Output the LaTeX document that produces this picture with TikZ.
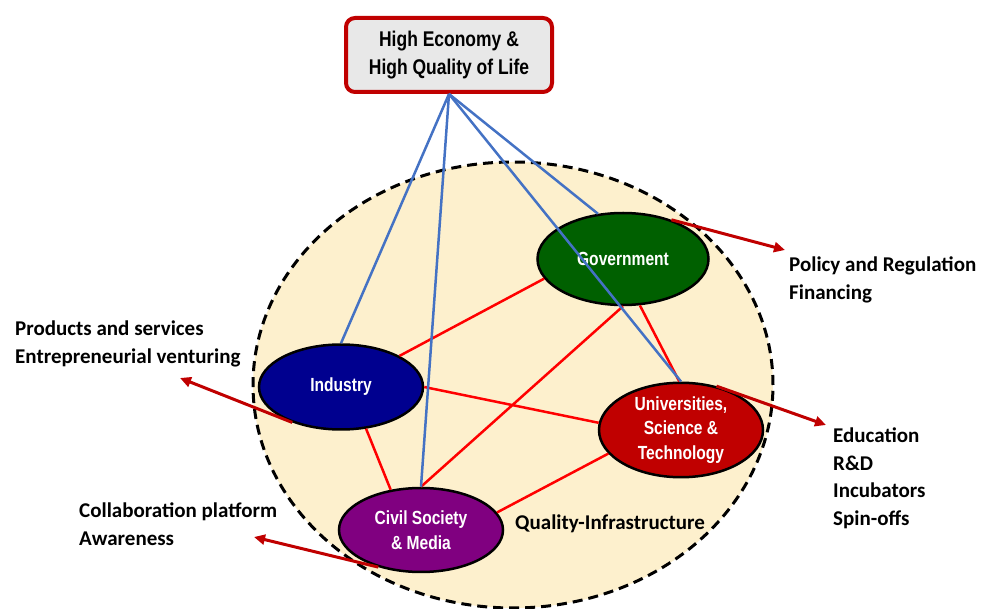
\documentclass[tikz,border=0pt]{standalone}
\usepackage{fontspec}
\setmainfont{Carlito}
\newfontfamily\narrowfont[FakeStretch=0.82]{Liberation Sans}
\usetikzlibrary{shapes.geometric,arrows.meta}
\definecolor{beige}{HTML}{FDF0CD}
\definecolor{boxgrey}{HTML}{E8E8E8}
\definecolor{darkred}{HTML}{C00000}
\definecolor{govgreen}{HTML}{006000}
\definecolor{indblue}{HTML}{00008F}
\definecolor{civpurple}{HTML}{800080}
\definecolor{linkblue}{HTML}{4472C4}
\tikzset{
  actor/.style={ellipse, draw=black, line width=2.5pt, minimum width=164pt, minimum height=85pt, inner sep=0pt,
    text=white, font=\narrowfont\bfseries\fontsize{19}{24.5}\selectfont, align=center},
  bluelink/.style={draw=linkblue, line width=2.5pt},
  redlink/.style={draw=red, line width=2.5pt},
  outarrow/.style={draw=darkred, line width=3pt, -{Triangle[length=11pt,width=10pt]}},
  caption/.style={font=\bfseries\fontsize{21}{27.5}\selectfont, align=left, anchor=north west, inner sep=0pt},
}
\begin{document}
\begin{tikzpicture}[x=1pt,y=-1pt]
\useasboundingbox (0,0) rectangle (989,609);
\begin{scope}
\clip (0,0) rectangle (989,609);
\node[ellipse, draw=black, fill=beige, line width=3pt, dash pattern=on 10pt off 6pt,
  minimum width=520pt, minimum height=446pt, inner sep=0pt] (sys) at (513,385) {};
\end{scope}
\node[draw=darkred, fill=boxgrey, line width=4pt, rounded corners=9pt, minimum width=206pt, minimum height=74pt,
  inner sep=0pt, align=center, font=\narrowfont\bfseries\fontsize{21.3}{28}\selectfont] (top) at (449,55)
  {High Economy \&\\High Quality of Life};
\node[actor, fill=govgreen, minimum width=171pt, minimum height=92pt] (gov) at (623,259) {Government};
\node[actor, fill=indblue] (ind) at (341,387) {Industry};
\node[actor, fill=darkred, minimum height=84pt] (uni) at (681,430) {Universities,\\Science \&\\Technology};
\node[actor, fill=civpurple, minimum height=84pt] (civ) at (421,530) {Civil Society\\\& Media};
% red links
\draw[redlink] (ind.28) -- (gov.194);
\draw[redlink] (ind.east) -- (uni.175);
\draw[redlink] (ind.301) -- (civ.127);
\draw[redlink] (civ.north) -- (gov.270);
\draw[redlink] (civ.13) -- (uni.198);
\draw[redlink] (gov.290) -- (uni.92);
% blue links
\draw[bluelink] (top.south) -- (ind.north);
\draw[bluelink] (top.south) -- (civ.north);
\draw[bluelink] (top.south) -- (gov.119);
\draw[bluelink] (top.south) -- (uni.north);
% outward arrows
\coordinate (govtip) at (785,250);
\coordinate (indtip) at (180,378);
\coordinate (unitip) at (826,425);
\coordinate (civtip) at (254,537);
\draw[outarrow] (gov.39) -- (govtip);
\draw[outarrow] (ind.216) -- (indtip);
\draw[outarrow] (uni.51) -- (unitip);
\draw[outarrow] (civ.221) -- (civtip);
% captions
\node[caption] (govcap) at (789,257) {Policy and Regulation\\Financing};
\node[caption] (indcap) at (15,321) {Products and services\\Entrepreneurial venturing};
\node[caption] (unicap) at (833,428) {Education\\R\&D\\Incubators\\Spin-offs};
\node[caption] (civcap) at (79,503) {Collaboration platform\\Awareness};
\node[caption] (qi) at (515,515) {Quality-Infrastructure};
\end{tikzpicture}
\end{document}
